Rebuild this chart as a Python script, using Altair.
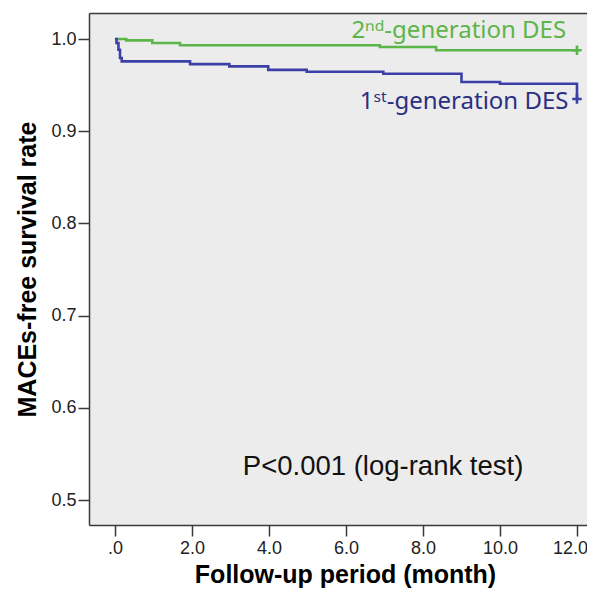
import altair as alt
import pandas as pd

# Kaplan-Meier step data
months_2nd = [0.0, 0.29, 0.97, 1.69, 6.88, 8.34, 12.0]
surv_2nd = [1.0, 0.9985, 0.9957, 0.9933, 0.9913, 0.9878, 0.9878]

months_1st = [0.0, 0.04, 0.09, 0.13, 0.175, 1.95, 2.97, 3.98, 4.98, 6.97, 9.0, 10.0, 12.0]
surv_1st = [1.0, 0.9957, 0.9884, 0.9794, 0.9757, 0.9728, 0.9703, 0.9665, 0.9645,
            0.9623, 0.9533, 0.9515, 0.935]

groups = ["2nd-generation DES", "1st-generation DES"]
label_texts = ["2ⁿᵈ-generation DES", "1ˢᵗ-generation DES"]
censor_months = [12.0, 12.0]
censor_surv = [0.9878, 0.935]

x_ticks = [0, 2, 4, 6, 8, 10, 12]
y_ticks = [0.5, 0.6, 0.7, 0.8, 0.9, 1.0]
p_text = "P<0.001 (log-rank test)"

line_colors = ["#5cb548", "#3c40a6"]
text_colors = ["#5cb548", "#2b2f82"]

# annotation anchors (data units)
label_month = [6.14, 6.36]
label_surv = [1.0014, 0.924]
p_month = [3.32]
p_surv = [0.5269]

rows = []
for t, s in zip(months_2nd, surv_2nd):
    rows.append({"month": t, "surv": s, "group": groups[0]})
for t, s in zip(months_1st, surv_1st):
    rows.append({"month": t, "surv": s, "group": groups[1]})
curves = pd.DataFrame(rows)

censor = pd.DataFrame({"month": censor_months, "surv": censor_surv, "group": groups})
labels = pd.DataFrame({"month": label_month, "surv": label_surv, "group": groups,
                       "text": label_texts})
ptab = pd.DataFrame({"month": p_month, "surv": p_surv, "text": [p_text]})

xscale = alt.Scale(domain=[-0.675, 12.26], nice=False, zero=False)
yscale = alt.Scale(domain=[0.4729, 1.0282], nice=False, zero=False)
color_scale = alt.Scale(domain=groups, range=line_colors)
text_color_scale = alt.Scale(domain=groups, range=text_colors)

yaxis = alt.Axis(values=y_ticks, format=".1f", labelPadding=2,
                 title="MACEs-free survival rate", titleFont="Liberation Sans",
                 titleFontSize=25, titleFontWeight="bold", titleColor="#000000",
                 titleX=-54, titleBaseline="alphabetic")

xaxis = alt.Axis(values=x_ticks, orient="bottom",
                 labelExpr="datum.value == 0 ? '.0' : format(datum.value, '.1f')",
                 labelOffset={"condition": {"test": "datum.value == 12", "value": -7},
                              "value": 0},
                 labelPadding=3, title="Follow-up period (month)",
                 titleFont="Liberation Sans", titleFontSize=25, titleFontWeight="bold",
                 titleColor="#000000", titleX=256, titleY=57,
                 titleBaseline="alphabetic")

lines = alt.Chart(curves).mark_line(interpolate="step-after", strokeWidth=2.6).encode(
    x=alt.X("month:Q", scale=xscale, axis=xaxis),
    y=alt.Y("surv:Q", scale=yscale, axis=yaxis),
    color=alt.Color("group:N", scale=color_scale, legend=None),
    detail="group:N",
)

marks = alt.Chart(censor).mark_point(
    shape="M-1,0L1,0M0,-1L0,1", filled=False, size=90, strokeWidth=2.6, opacity=1
).encode(
    x=alt.X("month:Q", scale=xscale,
            axis=alt.Axis(orient="top", labels=False, ticks=False, title=None,
                          domain=True)),
    y=alt.Y("surv:Q", scale=yscale, axis=yaxis),
    color=alt.Color("group:N", scale=color_scale, legend=None),
)

curve_labels = alt.Chart(labels).mark_text(
    align="left", baseline="alphabetic", font="Noto Sans", fontSize=24
).encode(
    x=alt.X("month:Q", scale=xscale, axis=None),
    y=alt.Y("surv:Q", scale=yscale, axis=yaxis),
    text="text:N",
    color=alt.Color("group:N", scale=text_color_scale, legend=None),
)

p_label = alt.Chart(ptab).mark_text(
    align="left", baseline="alphabetic", font="Liberation Sans", fontSize=27.5,
    color="#111111"
).encode(
    x=alt.X("month:Q", scale=xscale, axis=None),
    y=alt.Y("surv:Q", scale=yscale, axis=yaxis),
    text="text:N",
)

chart = alt.layer(lines, marks, curve_labels, p_label).resolve_axis(
    x="independent"
).resolve_scale(color="independent").properties(
    width=498, height=512,
    autosize=alt.AutoSizeParams(type="none"),
    padding={"left": 81, "top": 5, "right": 0, "bottom": 63},
    background="#ffffff",
).configure_view(
    fill="#ececec", stroke=None
).configure_axis(
    domainColor="#3a3a3a", domainWidth=1.5, tickColor="#3a3a3a", tickWidth=1.5,
    tickSize=11, labelFont="Liberation Sans", labelFontSize=18, labelColor="#222222",
    grid=False,
)

chart.save("out.html", embed_options={"renderer": "svg", "actions": False})
